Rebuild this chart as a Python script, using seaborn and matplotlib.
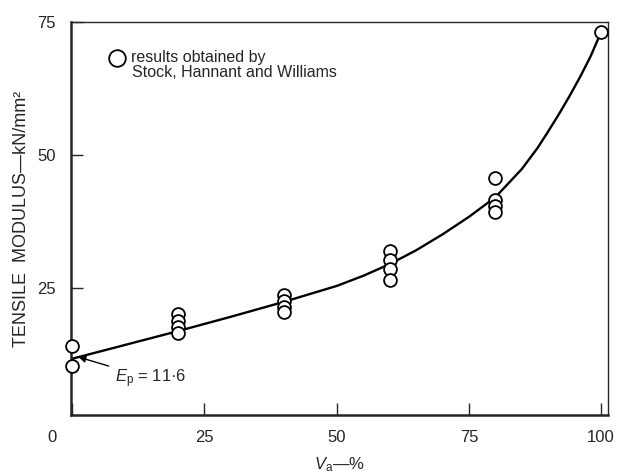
import matplotlib
matplotlib.use("Agg")
import matplotlib.pyplot as plt
import matplotlib.transforms as mtransforms
import seaborn as sns
import pandas as pd

# measured points (V_a %, tensile modulus kN/mm2)
va_points = [0, 0, 20, 20, 20, 20, 40, 40, 40, 40, 60, 60, 60, 60, 80, 80, 80, 80, 100]
modulus_points = [14.0, 10.3, 20.0, 18.7, 17.5, 16.4, 23.6, 22.5, 21.4, 20.3,
                  31.8, 30.1, 28.4, 26.5, 45.7, 41.5, 40.4, 39.3, 73.1]

# theoretical curve
va_curve = [0, 10, 20, 30, 40, 50, 55, 60, 65, 70, 75, 80, 85, 88, 90, 92, 94, 96, 98, 100]
modulus_curve = [11.6, 14.2, 16.8, 19.5, 22.3, 25.3, 27.2, 29.4, 32.0, 35.0, 38.3, 42.0,
                 47.3, 51.3, 54.4, 57.6, 61.0, 64.6, 68.5, 73.1]

x_ticks = [0, 25, 50, 75, 100]
y_ticks = [25, 50, 75]

legend_line1 = "results obtained by"
legend_line2 = "Stock, Hannant and Williams"
ep_label = r"$E_{\rm p}$ = 11·6"
y_title = "TENSILE  MODULUS—kN/mm²"

pts = pd.DataFrame({"Va": va_points, "E": modulus_points})
curve = pd.DataFrame({"Va": va_curve, "E": modulus_curve})

sns.set_style("ticks")
plt.rcParams["font.family"] = ["Liberation Sans", "DejaVu Sans"]
plt.rcParams["mathtext.fontset"] = "custom"
plt.rcParams["mathtext.rm"] = "Liberation Sans"
plt.rcParams["mathtext.it"] = "Liberation Sans:italic"

fig = plt.figure(figsize=(6.18, 4.73), dpi=100)
ax = fig.add_axes([0.1144, 0.1226, 0.8694, 0.831])

sns.lineplot(data=curve, x="Va", y="E", ax=ax, color="black", linewidth=1.7,
             sort=False, clip_on=False)
sns.scatterplot(data=pts, x="Va", y="E", ax=ax, s=85, facecolor="white",
                edgecolor="black", linewidth=1.3, zorder=3, clip_on=False,
                label=legend_line1)

ax.set_xlim(-0.3, 101.3)
ax.set_ylim(1, 75)
ax.set_xticks(x_ticks)
ax.set_yticks(y_ticks)
ax.tick_params(direction="in", length=8.5, width=1.0, pad=11, labelsize=12)

# the "0" label sits left of the corner in the original
lab0 = ax.get_xticklabels()[0]
lab0.set_transform(lab0.get_transform() + mtransforms.ScaledTranslation(-20 / 100, 0, fig.dpi_scale_trans))

for side in ["left", "bottom"]:
    ax.spines[side].set_linewidth(1.8)
for side in ["top", "right"]:
    ax.spines[side].set_linewidth(1.0)

ax.set_xlabel(r"$V_{\rm a}$—%", fontsize=12, labelpad=7)
ax.set_ylabel(y_title, fontsize=13, labelpad=5)

# legend (first line with marker) + second line
ax.legend(loc="upper left", bbox_to_anchor=(0.06, 0.945), frameon=False,
          handletextpad=0.35, markerscale=1.3, fontsize=11.5, borderaxespad=0,
          handlelength=1.0)
ax.text(0.114, 0.872, legend_line2, transform=ax.transAxes, fontsize=11.5,
        ha="left", va="center")

# E_p arrow
ax.annotate(ep_label, xy=(1.2, 11.9), xytext=(8.0, 7.9), fontsize=12,
            va="center", ha="left",
            arrowprops=dict(arrowstyle="-|>", color="black", lw=1.0,
                            shrinkA=2, shrinkB=0, mutation_scale=10))

plt.savefig("out.png", dpi=100)
